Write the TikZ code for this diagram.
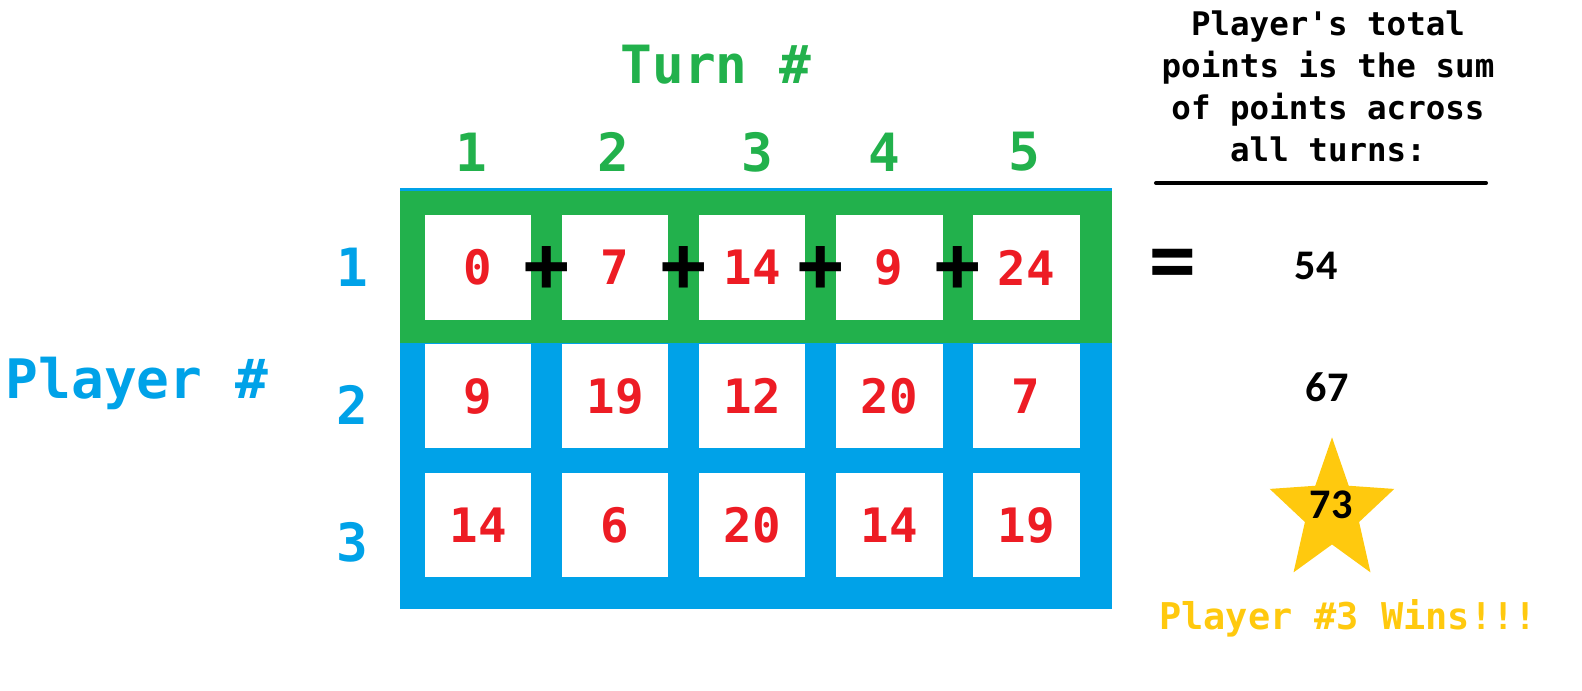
\documentclass[tikz,border=0pt]{standalone}
\usepackage{fontspec}
\usetikzlibrary{shapes.geometric,calc}
\newfontfamily\monofont{DejaVu Sans Mono}
\newfontfamily\numfont{Carlito}
\definecolor{boardgreen}{HTML}{22B14C}
\definecolor{boardblue}{HTML}{00A2E8}
\definecolor{pointred}{HTML}{ED1C24}
\definecolor{wingold}{HTML}{FFC90E}

\begin{document}
\begin{tikzpicture}[%
  x=0.02cm, y=-0.02cm, % one unit is one pixel of the board
  cell/.style={rectangle, fill=white, inner sep=0pt, minimum width=2.14cm, minimum height=2.1cm, text=pointred, font=\monofont\bfseries\fontsize{27}{27}\selectfont},
  turnlab/.style={text=boardgreen, font=\monofont\bfseries\fontsize{30}{30}\selectfont},
  playerlab/.style={text=boardblue, font=\monofont\bfseries\fontsize{30}{30}\selectfont},
  opsign/.style={inner sep=0pt, text=black, font=\monofont\bfseries\fontsize{44}{44}\selectfont},
  total/.style={text=black, font=\numfont\bfseries\fontsize{24}{24}\selectfont}
]
\useasboundingbox (0,0) rectangle (1582,690);

% Board background
\fill[boardblue] (400,188) rectangle (1112,609);
\fill[boardgreen] (400,191) rectangle (1112,343);

% Headings
\node[turnlab, anchor=base] (turn) at (716,83) {Turn \#};
\node[playerlab, anchor=base, font=\monofont\bfseries\fontsize{31}{31}\selectfont] (player) at (137,398) {Player \#};

% Cells with points per turn
\foreach \r/\y/\vals in {1/267.5/{0,7,14,9,24}, 2/396/{9,19,12,20,7}, 3/525/{14,6,20,14,19}}
  \foreach \v [count=\c] in \vals
    \node[cell] (c\r\c) at ({478+137*(\c-1)},\y) {\v};

% Turn numbers and player numbers
\foreach \x [count=\c] in {471,613,757,884,1024}
  \node[turnlab] (t\c) at (\x,152) {\c};
\foreach \r/\y in {1/267, 2/405, 3/542}
  \node[playerlab] (p\r) at (352,\y) {\r};

% Plus signs between the cells of player 1
\foreach \c [evaluate=\c as \d using int(\c+1)] in {1,...,4}
  \node[opsign] (plus\c) at ($(c1\c.east)!0.5!(c1\d.west)+(0,1)$) {+};
\node[opsign] (equals) at (1173,268) {=};

% Explanation
\node[align=center, font=\monofont\bfseries\fontsize{18.5}{23.9}\selectfont] (note) at (1328,86)
  {Player's total\\points is the sum\\of points across\\all turns:};
\coordinate (ruleL) at (1156,183);
\coordinate (ruleR) at (1486,183);
\draw[line width=2.3pt, line cap=round] (ruleL) -- (ruleR);

% Totals
\node[total] (sum1) at (1316,266) {54};
\node[total] (sum2) at (1327,387) {67};
\begin{scope}[shift={(1332,512)}, yscale=1.14]
  \node[star, star points=5, star point ratio=2.3, fill=wingold, inner sep=0pt, minimum size=2.62cm, transform shape] (star) at (0,0) {};
\end{scope}
\node[total] (sum3) at (1331,505) {73};
\node[text=wingold, anchor=base, font=\monofont\bfseries\fontsize{21}{21}\selectfont] (wins) at (1348,629) {Player \#3 Wins!!!};

\end{tikzpicture}
\end{document}
